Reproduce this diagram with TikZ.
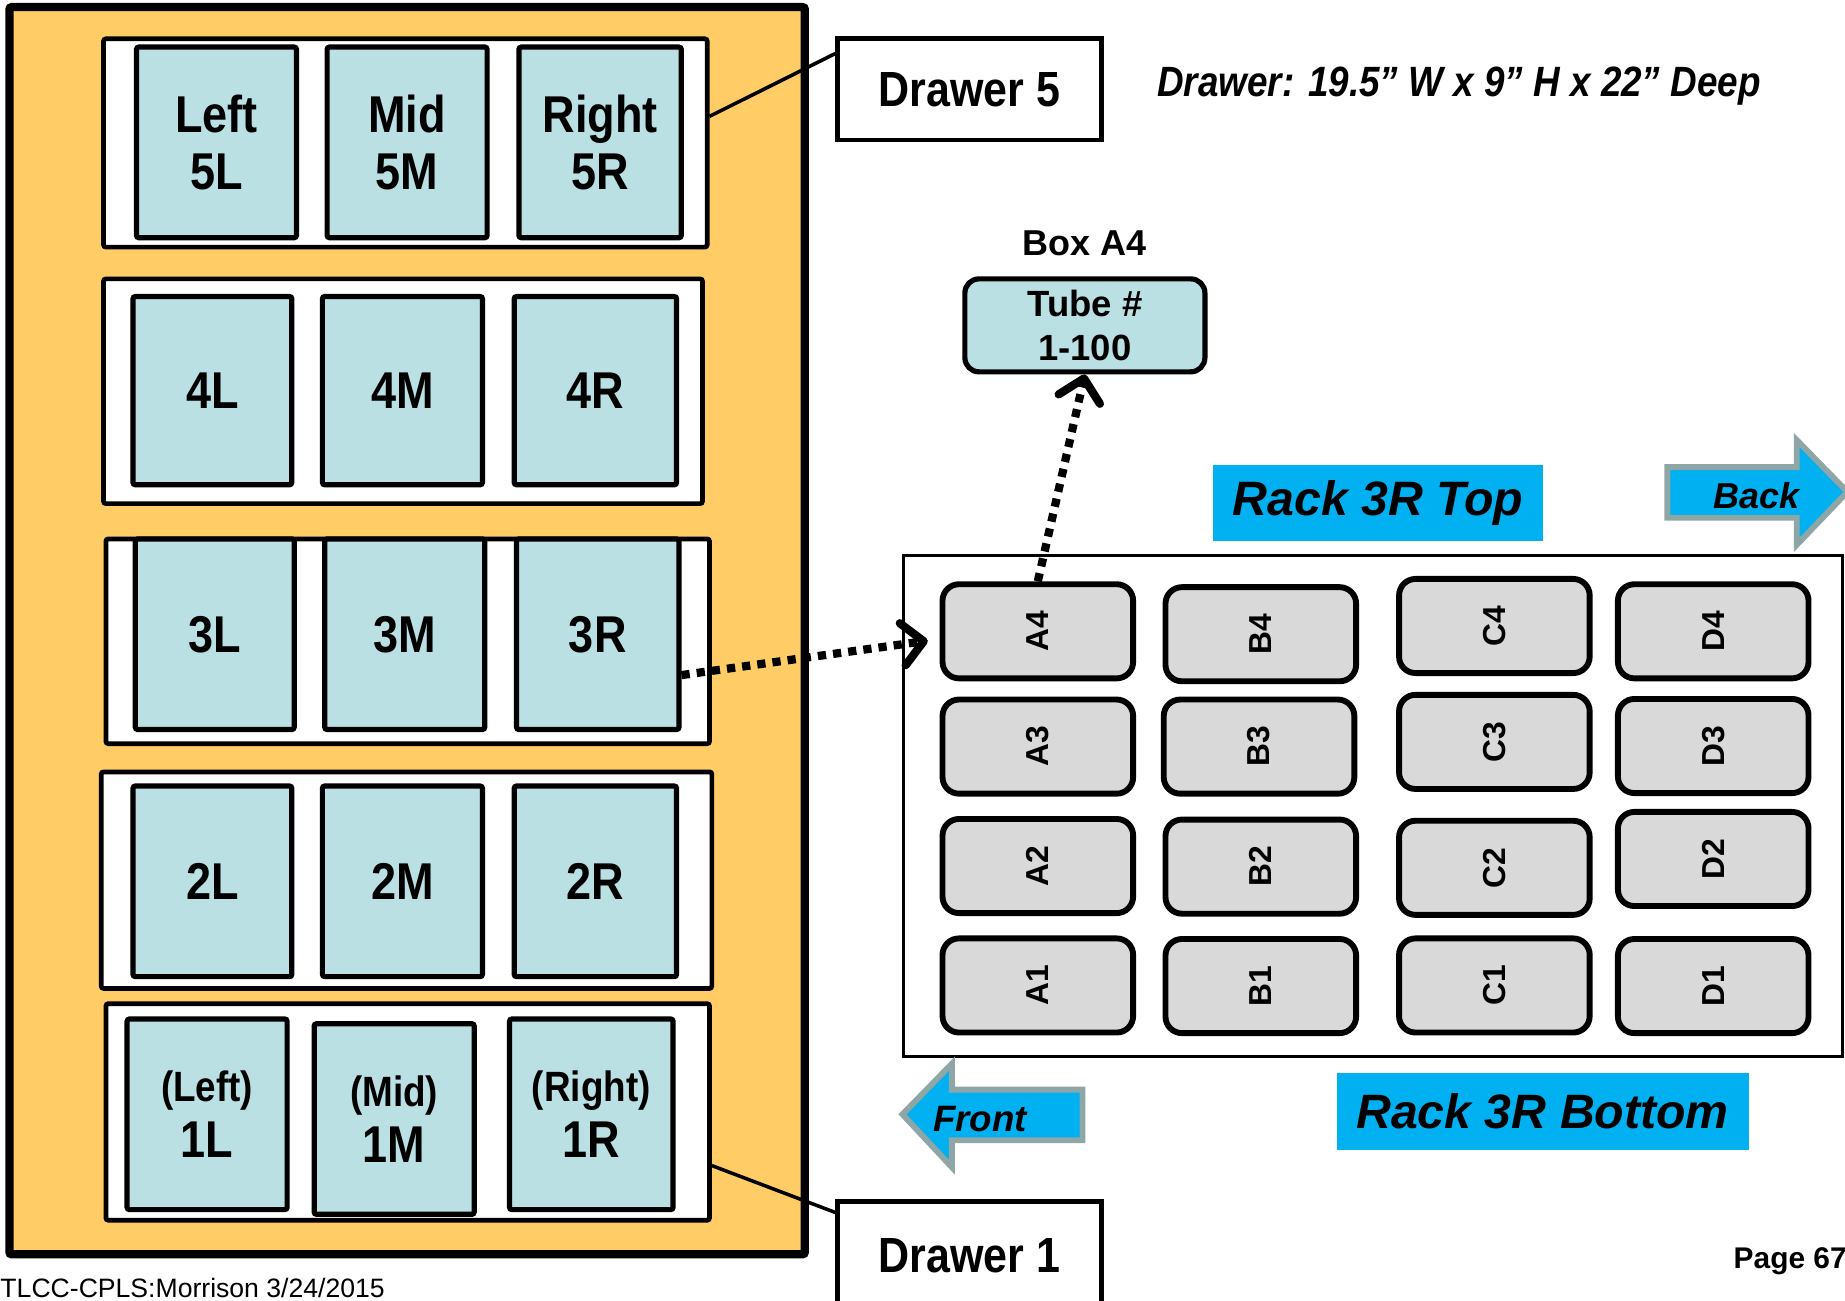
\documentclass[tikz,border=0pt]{standalone}
\usepackage{fontspec}
\setmainfont{Liberation Sans}
\newfontfamily\narrowsf{Liberation Sans}[FakeStretch=0.87]
\usetikzlibrary{arrows.meta}

\definecolor{cabOrange}{HTML}{FFCC66}
\definecolor{cabTray}{HTML}{BAE0E3}
\definecolor{cabBox}{HTML}{D9D9D9}
\definecolor{cabCyan}{HTML}{00B0F0}
\definecolor{cabEdge}{HTML}{8FA6A6}

\begin{document}
\begin{tikzpicture}[x=0.5pt,y=-0.5pt,
  corners/.style n args={4}{minimum width={(#3-#1)*0.5pt},minimum height={(#4-#2)*0.5pt},
    at={({(#1+#3)/2},{(#2+#4)/2})}},
  panel/.style={draw,fill=white,line width=2pt,inner sep=0pt,rounded corners=1pt},
  tray/.style={draw,fill=cabTray,line width=2.2pt,inner sep=0pt,rounded corners=1pt,align=center,
    font=\narrowsf\bfseries\fontsize{22}{24}\selectfont},
  tag/.style={draw,fill=white,line width=2pt,inner sep=0pt,font=\narrowsf\bfseries\fontsize{21}{24}\selectfont},
  rackbox/.style={draw,fill=cabBox,line width=2.5pt,rounded corners=7pt,inner sep=0pt,
    minimum width=81pt,minimum height=40pt,font=\bfseries\fontsize{13.5}{15}\selectfont},
  racktag/.style={fill=cabCyan,inner sep=0pt,font=\bfseries\itshape\fontsize{20.5}{24}\selectfont},
  leader/.style={line width=1.5pt},
  dotarrow/.style={line width=3.5pt,dash pattern=on 3.5pt off 3pt,
    -{Straight Barb[length=9pt,width=18pt,round]}},
  flatarrow/.style={fill=cabCyan,draw=cabEdge,line width=2.5pt}
]
  \useasboundingbox (0,0) rectangle (1568,1105);

  % cabinet with five drawers
  \node[draw,fill=cabOrange,line width=3.5pt,inner sep=0pt,rounded corners=1pt,
    corners={8}{6}{684}{1066}] (cabinet) {};
  \foreach \r/\xa/\ya/\xb/\yb in {5/88/33/601/210,4/88/237/597/428,3/90/458/603/632,
      2/86/656/605/840,1/90/853/603/1037}
    \node[panel,corners={\xa}{\ya}{\xb}{\yb}] (panel\r) {};

  \foreach \tn/\xa/\ya/\xb/\yb/\txt in {
      5L/116/40/252/202/{Left\\5L},5M/278/40/414/202/{Mid\\5M},5R/441/40/579/202/{Right\\5R},
      4L/113/252/248/412/4L,4M/274/252/410/412/4M,4R/437/252/575/412/4R,
      3L/115/458/250/620/3L,3M/276/458/412/620/3M,3R/439/458/577/620/3R,
      2L/113/668/248/830/2L,2M/274/668/410/830/2M,2R/437/668/575/830/2R,
      1L/108/866/244/1028/{{\fontsize{18}{20}\selectfont(Left)}\\1L},
      1M/267/870/403/1032/{{\fontsize{18}{20}\selectfont(Mid)}\\1M},
      1R/433/866/572/1028/{{\fontsize{18}{20}\selectfont(Right)}\\1R}}
    \node[tray,corners={\xa}{\ya}{\xb}{\yb}] (tray\tn) {\txt};

  % drawer callouts
  \node[tag,corners={712}{33}{936}{119}] (drawer5) {Drawer 5};
  \node[tag,corners={712}{1021}{936}{1114}] (drawer1) {Drawer 1};
  \draw[leader] (panel5.5) -- (drawer5.165);
  \draw[leader] (panel1.-10) -- (drawer1.162);

  \node[font=\narrowsf\bfseries\itshape\fontsize{18}{20}\selectfont] (dims) at (1240,73)
    {Drawer: 19.5” W x 9” H x 22” Deep};

  % box A4 detail
  \node[font=\bfseries\fontsize{15.3}{18}\selectfont] (boxTitle) at (922,207) {Box A4};
  \node[draw,fill=cabTray,line width=2.2pt,rounded corners=6pt,inner sep=0pt,align=center,
    font=\bfseries\fontsize{15.5}{19}\selectfont,corners={820}{237}{1024}{316}] (tube) {Tube \#\\1-100};

  % rack 3R seen from the top
  \node[draw,line width=1.5pt,inner sep=0pt,corners={768}{472}{1566}{898}] (rack) {};
  \foreach \bx/\cx/\cy in {A4/882/536.5,B4/1071.5/539,C4/1270/532,D4/1456/536.5,
      A3/882/634.5,B3/1070/634.5,C3/1270/630.5,D3/1456/634,
      A2/882/736,B2/1071.5/736.5,C2/1270/737.5,D2/1456/730,
      A1/882/837.5,B1/1071.5/838,C1/1270/837.5,D1/1456/838}
    \node[rackbox] (\bx) at (\cx,\cy) {\rotatebox{90}{\bx}};

  \node[racktag,corners={1031}{395}{1311}{460}] (rackTop) {Rack 3R Top};
  \node[racktag,corners={1136}{912}{1486}{977}] (rackBottom) {Rack 3R Bottom};

  \filldraw[flatarrow] (1417,397) -- (1527,397) -- (1527,374) -- (1570,418) -- (1527,463)
    -- (1527,440) -- (1417,440) -- cycle;
  \node[font=\bfseries\itshape\fontsize{15.3}{18}\selectfont] (back) at (1493,421) {Back};
  \filldraw[flatarrow] (920,926) -- (809,926) -- (809,904) -- (767,947) -- (809,992)
    -- (809,969) -- (920,969) -- cycle;
  \node[font=\bfseries\itshape\fontsize{15.6}{18}\selectfont] (front) at (833,951) {Front};

  \draw[dotarrow] (tray3R.-26) -- ([xshift=-5pt,yshift=-4pt]A4.west);
  \draw[dotarrow] (A4.north) -- (tube.south);

  \node[anchor=west,inner sep=0pt,font=\bfseries\fontsize{12.7}{14}\selectfont] (page) at (1473,1072) {Page 67};
  \node[anchor=base west,inner sep=0pt,font=\fontsize{11.3}{13}\selectfont] (credit) at (0,1103)
    {TLCC-CPLS:Morrison 3/24/2015};
\end{tikzpicture}
\end{document}
